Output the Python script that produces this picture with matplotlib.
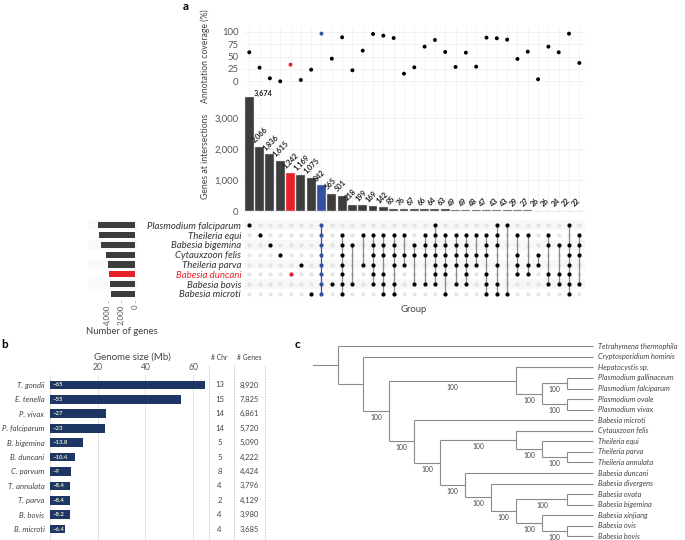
import matplotlib
matplotlib.use("Agg")
import matplotlib.pyplot as plt
import numpy as np

plt.rcParams['font.family'] = ['Lato', 'DejaVu Sans']

W, H = 685, 540

# ---------------- panel a data ----------------
inter_counts = [3674, 2066, 1836, 1615, 1242, 1169, 1075, 842, 565, 501, 218, 199,
                169, 142, 85, 76, 67, 66, 64, 63, 49, 49, 48, 47, 43, 43, 29, 27,
                26, 26, 24, 22, 22]
coverage = [58.8, 27.7, 6.1, 0, 33.8, 2.7, 23.6, 96.6, 45.9, 89.2, 22.3, 62.2,
            95.9, 92.6, 87.8, 15.5, 28.4, 70.3, 83.8, 59.5, 29.1, 58.1, 29.7,
            88.5, 87.2, 84.5, 45.3, 60.1, 4.1, 70.3, 58.8, 96.6, 37.2]
species_a = ["Plasmodium falciparum", "Theileria equi", "Babesia bigemina",
             "Cytauxzoon felis", "Theileria parva", "Babesia duncani",
             "Babesia bovis", "Babesia microti"]
set_sizes = [5500, 5300, 4970, 4300, 4000, 3850, 3700, 3600]
# one string per intersection, rows in species_a order
membership = ["10000000", "01000000", "00100000", "00010000", "00000100",
              "00001000", "00000001", "11111111", "00000010", "01111111",
              "00100010", "01001000", "01111110", "01110111", "01111011",
              "01011000", "00110010", "01110010", "11111110", "01111101",
              "01111010", "01111110", "01011000", "01110111", "11101011",
              "10000001", "01011100", "01001100", "00011000", "01100110",
              "00100110", "10111111", "01110010"]
col_colors = {4: "#e8212a", 7: "#3450a0"}

# ---------------- panel b data ----------------
genome_species = ["T. gondii", "E. tenella", "P. vivax", "P. falciparum", "B. bigemina",
                  "B. duncani", "C. parvum", "T. annulata", "T. parva", "B. bovis", "B. microti"]
genome_mb = [65, 55, 23.3, 23, 13.8, 10.4, 9, 8.4, 8.4, 8.2, 6.4]
genome_lbl = ["~65", "~55", "~27", "~23", "~13.8", "~10.4", "~9", "~8.4", "~8.4", "~8.2", "~6.4"]
n_chr = [13, 15, 14, 14, 5, 5, 8, 4, 2, 4, 4]
n_genes = ["8,920", "7,825", "6,861", "5,720", "5,090", "4,222", "4,424", "3,796",
           "4,129", "3,980", "3,685"]

# ---------------- panel c data ----------------
tree = ("Tetrahymena thermophila",
        ("Cryptosporidium hominis",
         (("Hepatocystis sp.",
           (("Plasmodium gallinaceum", "Plasmodium falciparum"),
            ("Plasmodium ovale", "Plasmodium vivax"))),
          ("Babesia microti",
           (("Cytauxzoon felis", ("Theileria equi", ("Theileria parva", "Theileria annulata"))),
            ("Babesia duncani",
             ("Babesia divergens",
              (("Babesia ovata", "Babesia bigemina"),
               ("Babesia xinjiang", ("Babesia ovis", "Babesia bovis"))))))))))
support = "100"

fig = plt.figure(figsize=(W / 100, H / 100), dpi=100)


def ax_px(x0, y0, x1, y1):
    return fig.add_axes([x0 / W, 1 - y1 / H, (x1 - x0) / W, (y1 - y0) / H])


GREY_T = "#555555"
n = len(inter_counts)
cols = np.arange(1, n + 1)
xl = (0.49, 33.55)

# --- coverage scatter
ax1 = ax_px(244, 27, 585, 86)
ax1.set_xlim(*xl)
ax1.set_ylim(-9.5, 110.1)
for c in cols:
    ax1.axvline(c, color="#f1f1f1", lw=0.6, zorder=0)
for t in [0, 25, 50, 75, 100]:
    ax1.axhline(t, color="#f1f1f1", lw=0.6, zorder=0)
pc = [col_colors.get(i, "black") for i in range(n)]
ax1.scatter(cols, coverage, s=8, c=pc, zorder=3, linewidths=0)
ax1.set_yticks([0, 25, 50, 75, 100])
ax1.set_xticks([])
ax1.tick_params(axis="y", length=0, labelsize=6.8, labelcolor=GREY_T, pad=4)
for s in ax1.spines.values():
    s.set_visible(False)
fig.text(205 / W, 1 - 56 / H, "Annotation coverage (%)", rotation=90, ha="center",
         va="center", fontsize=6.2, color="#444444")

# --- intersection bars
ax2 = ax_px(244, 88, 585, 213)
ax2.set_xlim(*xl)
ax2.set_ylim(-54, 3952)
for c in cols:
    ax2.axvline(c, color="#f1f1f1", lw=0.6, zorder=0)
for t in [0, 1000, 2000, 3000]:
    ax2.axhline(t, color="#f1f1f1", lw=0.6, zorder=0)
bc = [col_colors.get(i, "#3d3d3d") for i in range(n)]
ax2.bar(cols, inter_counts, width=0.86, color=bc, edgecolor="#dddddd", linewidth=0.3, zorder=2)
for i, (c, v) in enumerate(zip(cols, inter_counts)):
    if i == 0:
        ax2.text(c + 0.45, v + 110, f"{v:,}", ha="left", va="center", fontsize=5.3,
                 fontweight="bold", color="#222222")
    else:
        ax2.text(c - 0.35, v + 80, f"{v:,}", ha="left", va="bottom", rotation=45,
                 rotation_mode="anchor", fontsize=5.3, fontweight="bold", color="#222222")
ax2.set_yticks([0, 1000, 2000, 3000])
ax2.set_yticklabels(["0", "1,000", "2,000", "3,000"])
ax2.set_xticks([])
ax2.tick_params(axis="y", length=0, labelsize=6.8, labelcolor=GREY_T, pad=4)
for s in ax2.spines.values():
    s.set_visible(False)
fig.text(205 / W, 1 - 156 / H, "Genes at intersections", rotation=90, ha="center",
         va="center", fontsize=6.2, color="#444444")

# --- matrix
ax3 = ax_px(244, 219, 585, 300)
ax3.set_xlim(*xl)
ax3.set_ylim(7.62, -0.645)
nr = len(species_a)
for r in range(0, nr, 2):
    ax3.axhspan(r - 0.5, r + 0.5, color="#f7f7f7", zorder=0, lw=0)
for i, m in enumerate(membership):
    c = cols[i]
    on = [r for r in range(nr) if m[r] == "1"]
    col = col_colors.get(i, "black")
    ax3.scatter([c] * nr, range(nr), s=9, color="#e4e4e4", zorder=2, linewidths=0)
    if len(on) > 1:
        ax3.plot([c, c], [min(on), max(on)], color=col if i in col_colors else "#8a8a8a",
                 lw=0.9, zorder=2)
    ax3.scatter([c] * len(on), on, s=9, color=col, zorder=3, linewidths=0)
ax3.set_yticks(range(nr))
ax3.set_yticklabels(species_a, fontstyle="italic", fontsize=6.9, color="#333333")
ax3.get_yticklabels()[5].set_color("#e8212a")
ax3.set_xticks([])
ax3.tick_params(axis="y", length=0, pad=2)
for s in ax3.spines.values():
    s.set_visible(False)
fig.text(414 / W, 1 - 310 / H, "Group", ha="center", va="center", fontsize=6.8, color="#444444")

# --- set sizes
ax4 = ax_px(88, 219, 137, 300)
ax4.set_ylim(7.62, -0.645)
ax4.set_xlim(6923, -308)
for r in range(0, nr, 2):
    ax4.axhspan(r - 0.5, r + 0.5, color="#f9f9f9", zorder=0, lw=0)
sc = ["#e8212a" if s == "Babesia duncani" else "#3d3d3d" for s in species_a]
ax4.barh(range(nr), set_sizes, height=0.62, color=sc, zorder=2)
ax4.set_yticks([])
ax4.set_xticks([4000, 2000, 0])
ax4.set_xticklabels(["4,000", "2,000", "0"], rotation=90)
ax4.tick_params(axis="x", length=2, width=0.4, color="#aaaaaa", labelsize=5.8,
                labelcolor=GREY_T, pad=1)
for s in ax4.spines.values():
    s.set_visible(False)
fig.text(122 / W, 1 - 331 / H, "Number of genes", ha="center", va="center",
         fontsize=6.8, color="#444444")

fig.text(186 / W, 1 - 7 / H, "a", ha="center", va="center", fontsize=8.5, fontweight="bold")
fig.text(5 / W, 1 - 345 / H, "b", ha="center", va="center", fontsize=8.5, fontweight="bold")
fig.text(297 / W, 1 - 345 / H, "c", ha="center", va="center", fontsize=8.5, fontweight="bold")

# ---------------- panel b ----------------
nb = len(genome_species)
axb = ax_px(50, 375, 208, 540)
axb.set_xlim(0, 66.25)
axb.set_ylim(10.76, -0.694)
for t in [0, 20, 40, 60]:
    axb.axvline(t, color="#dcdcdc", lw=0.6, zorder=0)
axb.barh(range(nb), genome_mb, height=0.6, color="#1d3664", zorder=2)
for i, lab in enumerate(genome_lbl):
    axb.text(1.0, i, lab, ha="left", va="center", fontsize=4.3, fontweight="bold",
             color="#dfe9c9", zorder=3)
axb.set_yticks(range(nb))
axb.set_yticklabels(genome_species, fontstyle="italic", fontsize=5.6, color="#444444")
axb.xaxis.tick_top()
axb.set_xticks([20, 40, 60])
axb.tick_params(axis="x", length=0, labelsize=6.2, labelcolor=GREY_T, pad=2)
axb.tick_params(axis="y", length=0, pad=4)
for s in axb.spines.values():
    s.set_visible(False)
fig.text(132 / W, 1 - 357 / H, "Genome size (Mb)", ha="center", va="center",
         fontsize=7, color="#444444")

# table columns
axt = ax_px(205, 375, 268, 540)
axt.set_xlim(205, 268)
axt.set_ylim(10.76, -0.694)
axt.axis("off")
for xv in [209, 234.3, 265]:
    axt.plot([xv, xv], [-1.4, 10.76], ls=(0, (1, 1.2)), color="#9a9a9a", lw=0.5, clip_on=False)
for i in range(nb):
    axt.text(219.5, i, str(n_chr[i]), ha="center", va="center", fontsize=5.5, color="#444444")
    axt.text(249.5, i, n_genes[i], ha="center", va="center", fontsize=5.5, color="#444444")
fig.text(219.5 / W, 1 - 358 / H, "# Chr", ha="center", va="center", fontsize=4.9, color="#444444")
fig.text(249.5 / W, 1 - 358 / H, "# Genes", ha="center", va="center", fontsize=4.9, color="#444444")

# ---------------- panel c ----------------
tips = []


def walk(node):
    if isinstance(node, str):
        tips.append(node)
        return {"name": node, "h": 0, "y": len(tips) - 1, "kids": []}
    kids = [walk(k) for k in node]
    return {"name": None, "h": 1 + max(k["h"] for k in kids),
            "y": float(np.mean([k["y"] for k in kids])), "kids": kids}


root = walk(tree)
top_h = root["h"]
axc = ax_px(300, 335, 685, 540)
axc.set_xlim(-1.49, 13.608)
axc.set_ylim(18.343, -1.07)
axc.axis("off")
LC = "#8a8a8a"


def draw(node, depth):
    x = top_h - node["h"]
    if not node["kids"]:
        axc.text(top_h + 0.2, node["y"], node["name"], ha="left", va="center",
                 fontsize=5.3, fontstyle="italic", color="#444444")
        return
    ys = [k["y"] for k in node["kids"]]
    axc.plot([x, x], [min(ys), max(ys)], color=LC, lw=0.8, solid_capstyle="butt")
    for k in node["kids"]:
        kx = top_h - k["h"] if k["kids"] else top_h
        axc.plot([x, kx], [k["y"], k["y"]], color=LC, lw=0.8, solid_capstyle="butt")
        if k["kids"] and depth >= 1:
            axc.text((x + kx) / 2, k["y"] + 0.62, support, ha="center", va="center",
                     fontsize=4.9, color="#444444")
        draw(k, depth + 1)


axc.plot([-0.98, 0], [root["y"], root["y"]], color=LC, lw=0.8)
draw(root, 0)

fig.savefig("out.png", dpi=100)
